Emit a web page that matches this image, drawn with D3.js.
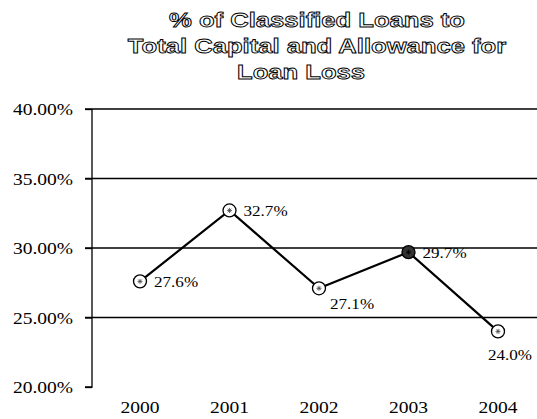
<!DOCTYPE html>
<html>
<head>
<meta charset="utf-8">
<script src="https://cdn.jsdelivr.net/npm/d3@7"></script>
<style>
  html, body { margin: 0; padding: 0; background: #fff; }
  svg { display: block; }
</style>
</head>
<body>
<script>
// ---- data ----
const titleLines = ["% of Classified Loans to", "Total Capital and Allowance for", "Loan Loss"];
const years = ["2000", "2001", "2002", "2003", "2004"];
const values = [27.6, 32.7, 27.1, 29.7, 24.0];
const yTicks = [20, 25, 30, 35, 40];
const labelPlacement = ["right", "right", "belowRight", "right", "below"];
const highlighted = [false, false, false, true, false];

// ---- layout ----
const W = 537, H = 419;
const sx = 1.22; // horizontal stretch of the scanned text
const svg = d3.select("body").append("svg").attr("width", W).attr("height", H);

const x = d3.scalePoint().domain(years).range([140, 498]);
const y = d3.scaleLinear().domain([20, 40]).range([387, 109]);
const axisX = 92;

function stretchedText(g, tx, ty, txt, anchor, size, family, weight) {
  return g.append("text")
    .attr("transform", `translate(${tx},${ty}) scale(${sx},1)`)
    .attr("text-anchor", anchor)
    .style("font-family", family)
    .style("font-size", size + "px")
    .style("font-weight", weight || "normal")
    .text(txt);
}

// title (outlined bold sans)
const titleX = [317, 317, 301];
const titleY = [27, 53, 79];
titleLines.forEach((t, i) => {
  stretchedText(svg, titleX[i], titleY[i], t, "middle", 21, "'Liberation Sans', Arial, sans-serif", "bold")
    .attr("fill", "#fff")
    .attr("stroke", "#000")
    .attr("stroke-width", 0.9);
});

// gridlines
svg.append("g").selectAll("line")
  .data(yTicks.filter(d => d > 20))
  .join("line")
  .attr("x1", axisX - 7).attr("x2", W)
  .attr("y1", d => y(d)).attr("y2", d => y(d))
  .attr("stroke", "#000").attr("stroke-width", 1.3);

// y axis
const yAxis = d3.axisLeft(y).tickValues(yTicks).tickSize(7).tickFormat(d => d3.format(".2f")(d) + "%");
const ga = svg.append("g").attr("transform", `translate(${axisX},0)`).call(yAxis);
ga.select(".domain").attr("d", `M-7,${y(20)}H0V${y(40)}`).attr("stroke", "#000").attr("stroke-width", 1.3);
ga.selectAll(".tick line").attr("stroke", "#000").attr("stroke-width", 1.3);
ga.selectAll(".tick text").remove();
yTicks.forEach(t => {
  stretchedText(svg, 73, y(t) + 6, d3.format(".2f")(t) + "%", "end", 16, "'Liberation Serif', 'Times New Roman', serif")
    .attr("fill", "#000");
});

// x labels
years.forEach(yr => {
  stretchedText(svg, x(yr), 413, yr, "middle", 16, "'Liberation Serif', 'Times New Roman', serif")
    .attr("fill", "#000");
});

// line
const pts = years.map((yr, i) => ({ yr, v: values[i], i }));
svg.append("path")
  .datum(pts)
  .attr("d", d3.line().x(d => x(d.yr)).y(d => y(d.v)))
  .attr("fill", "none").attr("stroke", "#000").attr("stroke-width", 2.2);

// markers
const mk = svg.append("g").selectAll("g").data(pts).join("g")
  .attr("transform", d => `translate(${x(d.yr)},${y(d.v)})`);
mk.append("circle").attr("r", 6.5)
  .attr("fill", d => highlighted[d.i] ? "#333" : "#fff")
  .attr("stroke", "#000").attr("stroke-width", 1.3);
mk.append("path")
  .attr("d", "M-2.5,0H2.5M0,-2.5V2.5M-1.8,-1.8L1.8,1.8M-1.8,1.8L1.8,-1.8")
  .attr("stroke", d => highlighted[d.i] ? "#000" : "#444").attr("stroke-width", 0.8);

// data labels
pts.forEach(d => {
  const px = x(d.yr), py = y(d.v);
  const p = labelPlacement[d.i];
  let tx, ty, anchor;
  if (p === "right") { tx = px + 14; ty = py + 6; anchor = "start"; }
  else if (p === "belowRight") { tx = px + 11; ty = py + 21; anchor = "start"; }
  else { tx = px + 12; ty = py + 29; anchor = "middle"; }
  stretchedText(svg, tx, ty, d3.format(".1f")(d.v) + "%", anchor, 14, "'Liberation Serif', 'Times New Roman', serif")
    .attr("fill", "#000");
});
</script>
</body>
</html>
